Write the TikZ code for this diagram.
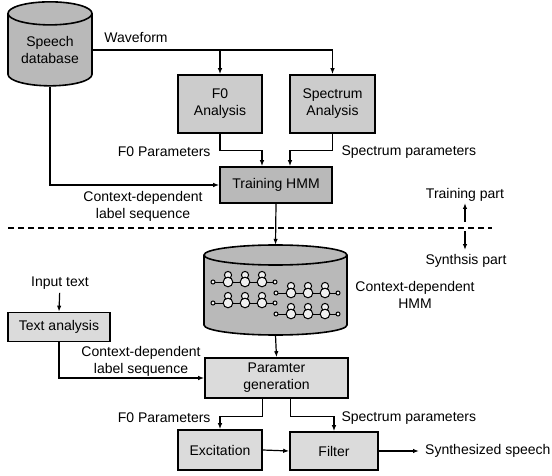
\documentclass[tikz,border=0pt]{standalone}
\usepackage{fontspec}
\setmainfont{Liberation Sans}
\usetikzlibrary{shapes.geometric,arrows.meta}

\tikzset{
  block/.style={draw, line width=1.6pt, fill=#1, align=center, inner sep=2pt},
  block/.default=gray!40,
  store/.style={cylinder, shape border rotate=90, draw, line width=1.6pt,
    fill=#1, align=center, inner sep=0pt},
  flow/.style={line width=1.2pt, -{Latex[length=6pt,width=4.5pt]}},
  hmmstate/.style={draw, line width=1pt, fill=gray!12},
  hmmloop/.style={draw, line width=1pt, fill=gray!12},
}

% one left-to-right HMM: entry, three states with self loops, exit
\newcommand{\hmmrow}[2]{%
  \begin{scope}[shift={(#1,#2)}]
    \draw[line width=1pt] (0,0) -- (62,0);
    \foreach \s in {15,32,49} \draw[hmmloop] (\s,-7) circle (3.6);
    \foreach \s in {15,32,49} \draw[hmmstate] (\s,0) circle (4.8);
    \draw[hmmstate] (0,0) circle (2) (62,0) circle (2);
  \end{scope}}

\begin{document}
\begin{tikzpicture}[x=1pt, y=-1pt, font=\fontsize{14}{17}\selectfont]
\useasboundingbox (0,0) rectangle (552,476);

% training part
\node[store=gray!55, minimum width=84pt, minimum height=84pt, aspect=0.4] (db) at (50,50) {Speech\\database};
\node[block=gray!40, minimum width=84pt, minimum height=58pt] (f0) at (220,104) {F0\\Analysis};
\node[block=gray!40, minimum width=85pt, minimum height=58pt] (spec) at (332.5,104) {Spectrum\\Analysis};
\node[block=gray!55, minimum width=112pt, minimum height=36pt] (train) at (276,185) {Training HMM};

\draw[flow] (db.east) -| (spec.north);
\draw[flow] (f0.north |- db.east) -- (f0.north);
\node[anchor=south] (wave) at (136,46) {Waveform};

\draw[flow] (f0.south) -- ++(0,17) -| ([xshift=-14pt]train.north);
\draw[flow] (spec.south) -- ++(0,17) -| ([xshift=14pt]train.north);
\node[anchor=east] (f0par) at (214,152) {F0 Parameters};
\node[anchor=west] (specpar) at (338,152) {Spectrum parameters};

\draw[flow] (db.south) |- (train.west);
\node[align=center] (lab1) at (143,206) {Context-dependent\\label sequence};

% border between the two parts
\draw[line width=1.1pt, dash pattern=on 6pt off 4pt] (8,228) -- (492,228);
\node (trpart) at (465,195) {Training part};
\node (sypart) at (466,261) {Synthsis part};
\coordinate (up) at (465,222);
\coordinate (uptip) at (465,203);
\coordinate (down) at (465,231);
\coordinate (downtip) at (465,250);
\draw[flow] (up) -- (uptip);
\draw[flow] (down) -- (downtip);

% synthesis part: the HMM store is drawn by hand round an empty node
\node[minimum width=143pt, minimum height=90pt, inner sep=0pt] (hmm) at (275.5,290) {};
\draw[line width=1.6pt, fill=gray!55] (204,255) -- (204,325)
  arc[start angle=180, end angle=0, x radius=71.5, y radius=10] -- (347,255)
  arc[start angle=0, end angle=-180, x radius=71.5, y radius=10] -- cycle;
\draw[line width=1.6pt] (204,255) arc[start angle=180, end angle=0, x radius=71.5, y radius=10];
\hmmrow{213}{282}
\hmmrow{213}{303}
\hmmrow{276}{293}
\hmmrow{276}{314}
\node[align=center] (hmmlab) at (415,295) {Context-dependent\\HMM};
\draw[flow] (train.south) -- (hmm.north);

\node (input) at (60,283) {Input text};
\node[block=gray!28, minimum width=102pt, minimum height=29pt] (text) at (59,327) {Text analysis};
\draw[flow] (input) -- (text.north);

\node[block=gray!28, minimum width=143pt, minimum height=40pt] (pgen) at (276.5,378) {Paramter\\generation};
\draw[flow] (hmm.south) -- (pgen.north);
\draw[flow] (text.south) |- (pgen.west);
\node[align=center] (lab2) at (141,361) {Context-dependent\\label sequence};

\node[block=gray!28, minimum width=84pt, minimum height=40pt] (exc) at (220,450) {Excitation};
\node[block=gray!28, minimum width=88pt, minimum height=38pt] (filt) at (334,451) {Filter};
\draw[flow] ([xshift=-14pt]pgen.south) -- ++(0,18) -| (exc.north);
\draw[flow] ([xshift=14pt]pgen.south) -- ++(0,18) -| (filt.north);
\node[anchor=east] (f0par2) at (214,418) {F0 Parameters};
\node[anchor=west] (specpar2) at (338,418) {Spectrum parameters};

\draw[flow] (exc.east) -- (filt.east -| filt.west);
\coordinate (out) at (419,451);
\draw[flow] (filt.east) -- (out);
\node[anchor=west, inner sep=0pt] (speech) at (425,451) {Synthesized speech};
\end{tikzpicture}
\end{document}
